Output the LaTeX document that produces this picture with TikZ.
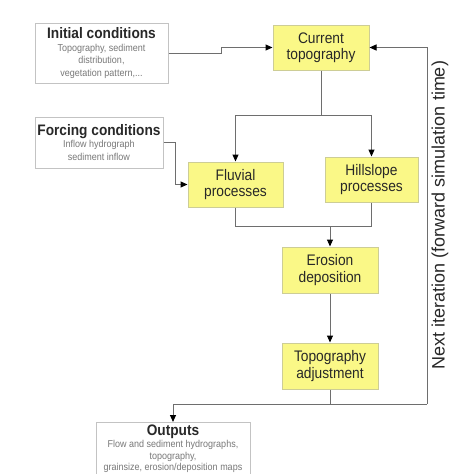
\documentclass[tikz,border=0pt]{standalone}
\usepackage{fontspec}
\setmainfont{Liberation Sans}
\newfontfamily\condfont[FakeStretch=0.9]{Liberation Sans}
\usetikzlibrary{arrows.meta}
\definecolor{boxyellow}{RGB}{250,248,135}
\definecolor{yellowedge}{RGB}{205,205,150}
\definecolor{greyedge}{RGB}{195,195,195}
\definecolor{linegrey}{RGB}{110,110,110}
\definecolor{smallgrey}{RGB}{120,120,120}
\definecolor{textdark}{RGB}{40,40,40}
\newcommand{\ttlfont}{\condfont\fontsize{15.2}{16}\selectfont\bfseries}
\newcommand{\smlfont}{\condfont\fontsize{10}{12.5}\selectfont}
\tikzset{
  whitebox/.style={draw=greyedge, line width=1pt, fill=white, align=center, inner sep=0pt,
    font=\smlfont, text=smallgrey},
  yelbox/.style={draw=yellowedge, line width=1pt, fill=boxyellow, align=center, inner sep=0pt,
    font=\condfont\fontsize{15.3}{16.5}\selectfont, text=textdark},
  conn/.style={draw=linegrey, line width=1pt},
  arr/.style={conn, -{Triangle[length=7pt,width=6pt,color=black,fill=black]}},
}
\begin{document}
\begin{tikzpicture}[x=1pt,y=-1pt]
\useasboundingbox (0,0) rectangle (474,474);
\clip (0,0) rectangle (474,474);
\fill[white] (0,0) rectangle (474,474);

% white boxes
\node[whitebox, minimum width=133pt, minimum height=60pt] (init) at (101.5,53)
  {{\ttlfont\color{textdark}Initial conditions}\\Topography, sediment\\distribution,\\vegetation pattern,...};
\node[whitebox, minimum width=128pt, minimum height=51pt] (forc) at (99,142.5)
  {{\ttlfont\color{textdark}Forcing conditions}\\Inflow hydrograph\\sediment inflow};
\node[whitebox, minimum width=154pt, anchor=north, inner ysep=2pt, font=\condfont\fontsize{10}{11.2}\selectfont] (outp) at (173,422)
  {{\ttlfont\color{textdark}Outputs}\\[1.5pt]Flow and sediment hydrographs,\\topography,\\grainsize, erosion/deposition maps\\[2pt]};

% yellow boxes
\node[yelbox, minimum width=96pt, minimum height=45pt] (topo) at (321,47.5) {Current\\topography};
\node[yelbox, minimum width=95pt, minimum height=45pt] (fluv) at (235.5,184.5) {Fluvial\\processes};
\node[yelbox, minimum width=93pt, minimum height=45pt] (hill) at (371.5,179.5) {Hillslope\\processes};
\node[yelbox, minimum width=96pt, minimum height=46pt] (eros) at (330,270) {Erosion\\deposition};
\node[yelbox, minimum width=96pt, minimum height=46pt] (adj) at (330,366) {Topography\\adjustment};

% vertical label
\node[rotate=90, font=\fontsize{18}{20}\selectfont, text=textdark, inner sep=0pt] (lbl) at (440,215)
  {Next iteration (forward simulation time)};

% junction coordinates
\coordinate (j1) at (321,115);
\coordinate (j2) at (330,226);
\coordinate (j3) at (330,404);
\coordinate (j4) at (427,404);

% connectors
\draw[arr] (init.east) -- ++(53,0) |- (topo.west);
\draw[conn] (topo.south) -- (j1);
\draw[arr] (j1) -| (fluv.north);
\draw[arr] (j1) -| (hill.north);
\draw[arr] (forc.east) -- ++(12,0) |- (fluv.west);
\draw[conn] (fluv.south) |- (j2);
\draw[conn] (hill.south) |- (j2);
\draw[arr] (j2) -- (eros.north);
\draw[arr] (eros.south) -- (adj.north);
\draw[conn] (adj.south) -- (j3);
\draw[arr] (j3) -| (outp.north);
\draw[conn] (j3) -- (j4);
\draw[arr] (j4) |- (topo.east);
\end{tikzpicture}
\end{document}
